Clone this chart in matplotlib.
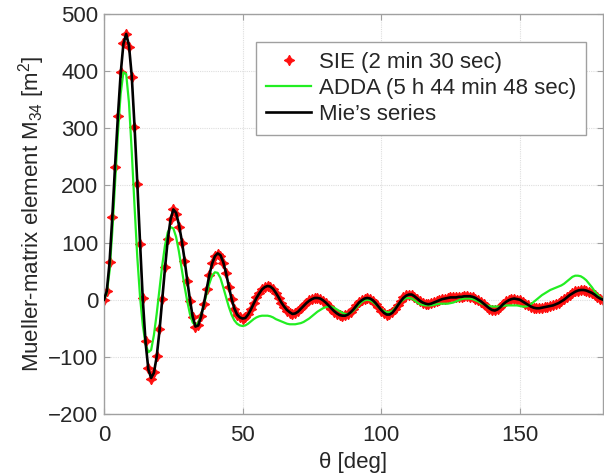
import numpy as np
import matplotlib
matplotlib.use("Agg")
import matplotlib.pyplot as plt

plt.rcParams['font.family'] = ['Liberation Sans', 'DejaVu Sans']
plt.rcParams['mathtext.default'] = 'regular'

# scattering angle (deg), 1-degree steps 0..180
theta = np.arange(0, 181, 1)

# Mie's series (black line)
mie_m34 = [
    0, 15, 65, 145, 235, 320, 395, 448, 465, 445,
    392, 305, 205, 100, 0, -75, -122, -137, -128, -100,
    -55, 0, 55, 105, 140, 158, 152, 132, 105, 72,
    35, 0, -30, -47, -45, -30, -8, 18, 43, 63,
    76, 81, 78, 66, 47, 24, 2, -15, -26, -31,
    -33, -32, -26, -17, -7, 3, 11, 18, 22, 24,
    23, 19, 12, 4, -5, -12, -18, -22, -25, -24,
    -21, -16, -11, -6, -2, 1, 3, 3, 2, -1,
    -5, -10, -15, -20, -24, -27, -28, -28, -26, -22,
    -17, -11, -5, -1, 2, 3, 2, -1, -6, -12,
    -18, -23, -26, -26, -23, -17, -10, -3, 3, 7,
    9, 9, 6, 2, -2, -5, -7, -8, -7, -5,
    -3, -1, 1, 2, 3, 4, 4, 4, 5, 5,
    6, 6, 6, 5, 3, 0, -3, -7, -11, -15,
    -18, -19, -17, -13, -8, -4, -1, 1, 2, 1,
    0, -3, -6, -9, -12, -14, -15, -15, -14, -13,
    -12, -11, -10, -8, -6, -3, 0, 4, 8, 11,
    14, 16, 17, 17, 16, 14, 12, 9, 5, 2,
    0,
]

# SIE (red markers)
sie_m34 = [
    0, 15, 66, 145, 233, 322, 398, 449, 465, 442,
    390, 302, 202, 98, 3, -72, -120, -138, -126, -98,
    -52, 2, 57, 106, 142, 158, 150, 127, 100, 68,
    33, -2, -31, -47, -44, -29, -7, 19, 44, 64,
    77, 80, 77, 65, 46, 23, 1, -16, -26, -31,
    -33, -31, -25, -16, -6, 4, 12, 18, 22, 24,
    22, 18, 11, 3, -6, -13, -19, -23, -25, -23,
    -20, -15, -10, -5, -1, 2, 3, 3, 1, -2,
    -6, -11, -16, -21, -25, -27, -28, -27, -25, -21,
    -16, -10, -4, 0, 2, 3, 1, -2, -7, -13,
    -19, -23, -26, -25, -22, -16, -9, -2, 4, 8,
    9, 8, 5, 1, -3, -6, -7, -8, -6, -4,
    -2, 0, 1, 2, 3, 4, 4, 5, 5, 5,
    6, 6, 5, 4, 2, -1, -4, -8, -12, -16,
    -18, -18, -16, -12, -7, -3, 0, 1, 2, 0,
    -1, -4, -7, -10, -12, -14, -15, -15, -14, -13,
    -12, -11, -9, -7, -5, -2, 1, 5, 9, 12,
    15, 16, 17, 17, 16, 14, 11, 8, 4, 1,
    0,
]

# ADDA (green line)
adda_m34 = [
    0, 12, 50, 120, 205, 290, 360, 398, 395, 345,
    260, 165, 75, 5, -45, -78, -92, -88, -62, -25,
    18, 60, 95, 118, 127, 125, 110, 85, 55, 25,
    -2, -25, -40, -45, -40, -27, -10, 10, 28, 42,
    48, 47, 38, 22, 5, -12, -26, -36, -42, -45,
    -46, -45, -42, -38, -34, -31, -29, -28, -28, -28,
    -29, -31, -34, -36, -38, -40, -42, -43, -43, -43,
    -42, -41, -39, -36, -33, -29, -25, -21, -18, -15,
    -13, -12, -12, -14, -17, -20, -23, -25, -25, -23,
    -19, -14, -9, -4, -1, 0, -1, -4, -8, -13,
    -17, -20, -22, -22, -20, -15, -9, -4, 0, 3,
    3, 2, -1, -5, -8, -9, -10, -10, -10, -9,
    -8, -7, -7, -7, -7, -6, -5, -3, -1, 1,
    2, 2, 2, 1, -1, -3, -6, -8, -10, -11,
    -12, -12, -12, -12, -11, -10, -10, -10, -10, -10,
    -11, -12, -12, -11, -8, -4, 0, 4, 8, 11,
    14, 17, 19, 21, 23, 25, 28, 32, 36, 40,
    42, 42, 41, 38, 34, 28, 22, 15, 9, 4,
    0,
]

labels = ['SIE (2 min 30 sec)', 'ADDA (5 h 44 min 48 sec)', "Mie\u2019s series"]
xticks = [0, 50, 100, 150]
yticks = [-200, -100, 0, 100, 200, 300, 400, 500]

fig = plt.figure(figsize=(6.04, 4.76), dpi=100)
ax = fig.add_axes([0.1722, 0.1303, 0.826, 0.8403])

ax.plot(theta, sie_m34, linestyle='none', marker=(4, 1, 0), markersize=7.5,
        color='#ff1010', markeredgecolor='#ff1010', markeredgewidth=0.8,
        label=labels[0], zorder=2)
ax.plot(theta, adda_m34, color='#22ee22', linewidth=1.6, label=labels[1], zorder=3)
ax.plot(theta, mie_m34, color='black', linewidth=1.9, label=labels[2], zorder=4)

ax.set_xlim(0, 180)
ax.set_ylim(-200, 500)
ax.set_xticks(xticks)
ax.set_yticks(yticks)
ax.grid(True, color='#dedede', linestyle=(0, (1, 1)), linewidth=0.8)
ax.set_axisbelow(True)

for sp in ax.spines.values():
    sp.set_color('#a0a0a0')
    sp.set_linewidth(1.0)
ax.tick_params(direction='in', length=4, color='#a0a0a0', labelsize=16,
               labelcolor='#262626', top=True, right=True)
ax.tick_params(axis='x', pad=8)
ax.tick_params(axis='y', pad=4)

ax.set_xlabel('\u03b8 [deg]', fontsize=16, color='#262626', labelpad=4)
ax.set_ylabel('Mueller-matrix element M$_{34}$ [m$^2$]', fontsize=16,
              color='#262626', labelpad=1)

leg = ax.legend(loc='upper right', bbox_to_anchor=(0.966, 0.93), borderaxespad=0,
                fontsize=16, frameon=True, fancybox=False, edgecolor='#a0a0a0',
                framealpha=1, handlelength=2.0, handletextpad=0.35,
                labelspacing=0.22, borderpad=0.45)
leg.get_frame().set_linewidth(1.0)
for t in leg.get_texts():
    t.set_color('#262626')

fig.savefig('out.png', dpi=100)
